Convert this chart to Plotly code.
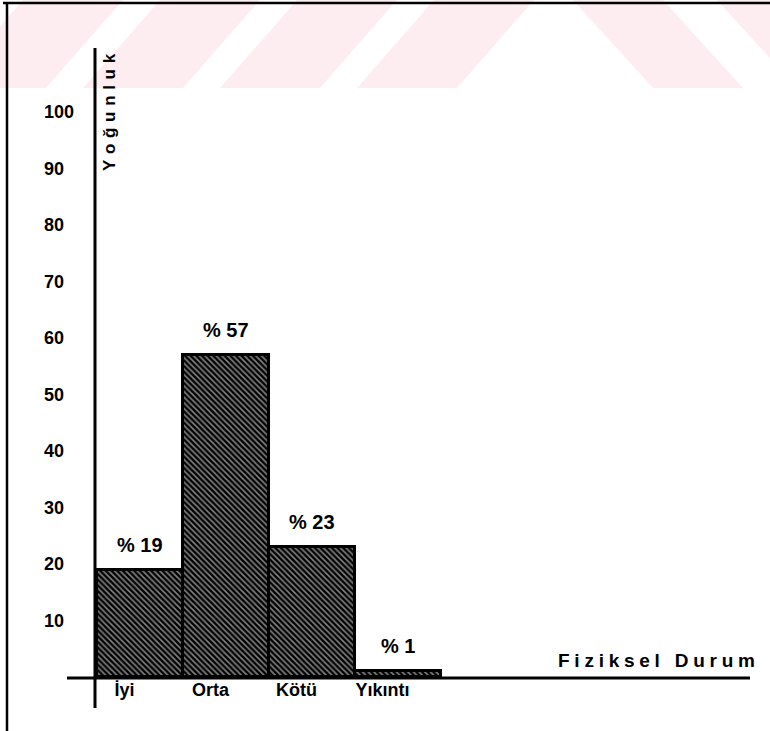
import plotly.graph_objects as go

# ---- data ----
categories = ["İyi", "Orta", "Kötü", "Yıkıntı"]
values = [19, 57, 23, 1]
value_labels = ["% 19", "% 57", "% 23", "% 1"]
y_ticks = [10, 20, 30, 40, 50, 60, 70, 80, 90, 100]
y_title = "Yoğunluk"
x_title = "Fiziksel Durum"

FONT = "Arial, 'Liberation Sans', sans-serif"
W, H = 770, 731
L, R, T, B = 95, 20, 48, 54
PW, PH = W - L - R, H - T - B


def px2x(px):
    return (px - L) / PW


def py2y(py):
    return (H - B - py) / PH


x_pos = list(range(len(categories)))

fig = go.Figure()
fig.add_trace(go.Bar(
    x=x_pos, y=values, width=1,
    marker=dict(color="black",
                line=dict(color="black", width=3),
                pattern=dict(shape="\\", fgcolor="white", bgcolor="black",
                             size=4, solidity=0.42)),
    hoverinfo="skip", showlegend=False,
))

# value labels above bars
for xi, v, t in zip(x_pos, values, value_labels):
    fig.add_annotation(x=xi, y=v, text="<b>" + t + "</b>", showarrow=False,
                       xanchor="center", yanchor="bottom", yshift=12,
                       font=dict(family=FONT, size=20, color="black"))

# axis titles
spaced_y = "\u2004".join(list(y_title))
fig.add_annotation(xref="paper", yref="paper", x=px2x(109), y=py2y(112),
                   xanchor="center", yanchor="middle",
                   text="<b>" + spaced_y + "</b>", textangle=-90, showarrow=False,
                   font=dict(family=FONT, size=17, color="black"))
spaced_x = "\u2005".join(list(x_title))
fig.add_annotation(xref="paper", yref="paper", x=px2x(656), y=py2y(660),
                   xanchor="center", yanchor="middle",
                   text="<b>" + spaced_x + "</b>", showarrow=False,
                   font=dict(family=FONT, size=19, color="black"))

shapes = []
# watermark stripes (decorative)
pink = "#fdedf0"
band = 88
for k in range(4):
    xb = -54 + k * 137
    pts = [(xb, band), (xb + 100, band), (xb + 177, 0), (xb + 77, 0)]
    path = "M " + " L ".join(f"{px2x(a):.4f},{py2y(b):.4f}" for a, b in pts) + " Z"
    shapes.append(dict(type="path", xref="paper", yref="paper", path=path,
                       fillcolor=pink, line=dict(width=0), layer="below"))
for xt in [573, 717]:
    pts = [(xt, 0), (xt + 90, 0), (xt + 170, band), (xt + 80, band)]
    path = "M " + " L ".join(f"{px2x(a):.4f},{py2y(b):.4f}" for a, b in pts) + " Z"
    shapes.append(dict(type="path", xref="paper", yref="paper", path=path,
                       fillcolor=pink, line=dict(width=0), layer="below"))

# page frame (top and left)
shapes.append(dict(type="line", xref="paper", yref="paper", x0=px2x(3), x1=px2x(770),
                   y0=py2y(3), y1=py2y(3), line=dict(color="black", width=2.5)))
shapes.append(dict(type="line", xref="paper", yref="paper", x0=px2x(7), x1=px2x(7),
                   y0=py2y(3), y1=py2y(731), line=dict(color="black", width=2.5)))
# axis lines
shapes.append(dict(type="line", xref="paper", yref="paper", x0=0, x1=0,
                   y0=py2y(708), y1=1, line=dict(color="black", width=3)))
shapes.append(dict(type="line", xref="paper", yref="paper", x0=px2x(67), x1=1,
                   y0=py2y(678), y1=py2y(678), line=dict(color="black", width=3)))

y_ticktext = [str(v) if v >= 100 else str(v) + "\u2007" for v in y_ticks]

x_left = -0.5 - 2 / 86
x_right = x_left + PW / 86
fig.update_layout(
    width=W, height=H,
    margin=dict(l=L, r=R, t=T, b=B),
    paper_bgcolor="white", plot_bgcolor="rgba(0,0,0,0)",
    bargap=0,
    shapes=shapes,
    font=dict(family=FONT, color="black"),
    xaxis=dict(range=[x_left, x_right], showgrid=False, zeroline=False,
               showline=False, ticks="",
               tickvals=[i - 0.18 for i in x_pos], ticktext=categories,
               tickfont=dict(family=FONT, size=18, color="black", weight="bold"),
               ticklabelstandoff=0),
    yaxis=dict(range=[0, (H - B - T) / 5.65], showgrid=False, zeroline=False,
               showline=False, ticks="",
               tickvals=y_ticks, ticktext=y_ticktext,
               tickfont=dict(family=FONT, size=18, color="black", weight="bold"),
               ticklabelstandoff=20),
)

fig.write_html("out.html", config={"displayModeBar": False},
               post_script="document.body.style.margin='0';document.body.style.overflow='hidden';")
